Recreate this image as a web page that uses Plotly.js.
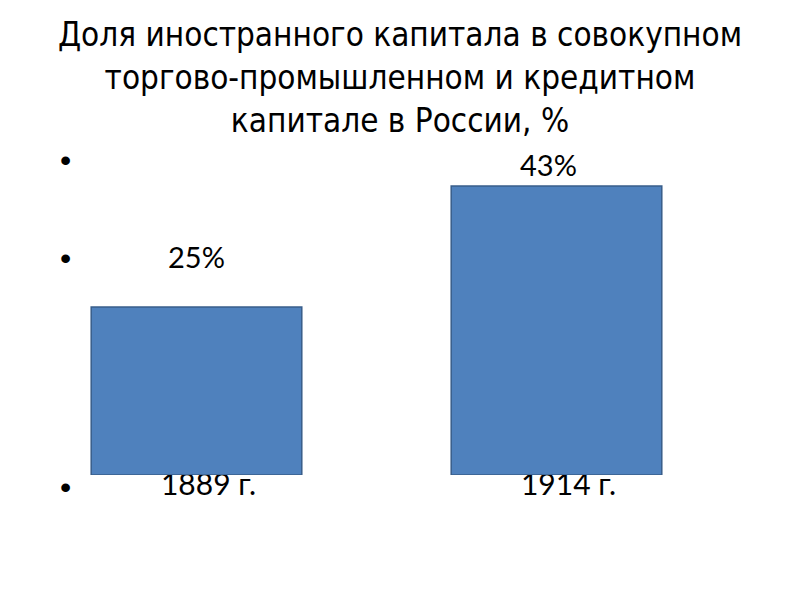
<!DOCTYPE html>
<html>
<head>
<meta charset="utf-8">
<script src="https://cdn.plot.ly/plotly-3.0.1.min.js"></script>
<style>html,body{margin:0;padding:0;background:#fff;}#chart{width:800px;height:600px;}</style>
</head>
<body>
<div id="chart"></div>
<script>
var titleLines = ["Доля иностранного капитала в совокупном", "торгово-промышленном и кредитном", "капитале в России, %"];
var categories = ["1889 г.", "1914 г."];
var values = [25, 43];
var valueLabels = ["25%", "43%"];
var labelFont = "Lato, Carlito, Calibri, 'Open Sans', sans-serif";

var PLOT_H = 475; // plot area height in px (margin b = 125)

var trace = {
  type: "bar",
  x: categories,
  y: values,
  width: 0.585,
  marker: {color: "#4F81BD", line: {color: "#385D8A", width: 1.5}},
  cliponaxis: false,
  hoverinfo: "none"
};

var annotations = [];
// value labels placed on the slide's bullet lines
var labelYs = [256, 164];
var labelShifts = [0, -8];
for (var i = 0; i < categories.length; i++) {
  annotations.push({
    x: categories[i], xref: "x", xshift: labelShifts[i],
    y: 1 - labelYs[i] / PLOT_H, yref: "paper",
    text: valueLabels[i], showarrow: false,
    xanchor: "center", yanchor: "middle",
    font: {family: labelFont, size: 29, color: "#000"}
  });
}
// bullets
[160, 258, 487].forEach(function (py) {
  annotations.push({
    x: 65 / 800, xref: "paper", y: 1 - py / PLOT_H, yref: "paper",
    text: "•", showarrow: false, xanchor: "center", yanchor: "middle",
    font: {family: "Liberation Sans, Arial, sans-serif", size: 32, color: "#000"}
  });
});

var layout = {
  width: 800, height: 600,
  margin: {l: 0, r: 0, t: 0, b: 125, pad: 0},
  paper_bgcolor: "#fff", plot_bgcolor: "#fff",
  showlegend: false,
  title: {
    text: titleLines.join("<br>"),
    font: {family: "'Liberation Sans Narrow', 'Arial Narrow', 'DejaVu Sans Condensed', sans-serif", size: 33, color: "#000"},
    x: 0.5, xanchor: "center", xref: "container",
    y: 1 - 46 / 600, yanchor: "middle", yref: "container"
  },
  xaxis: {
    type: "category",
    range: [-0.5458, 1.6764],
    showgrid: false, zeroline: false, showline: false, ticks: "",
    layer: "below traces",
    tickfont: {family: labelFont, size: 30, color: "#000"},
    ticklabelstandoff: -11,
    ticklabelshift: 12,
    fixedrange: true
  },
  yaxis: {
    range: [0, PLOT_H / 6.72],
    visible: false, showgrid: false, zeroline: false, fixedrange: true
  },
  annotations: annotations
};

Plotly.newPlot("chart", [trace], layout, {displayModeBar: false, staticPlot: true});
</script>
</body>
</html>
